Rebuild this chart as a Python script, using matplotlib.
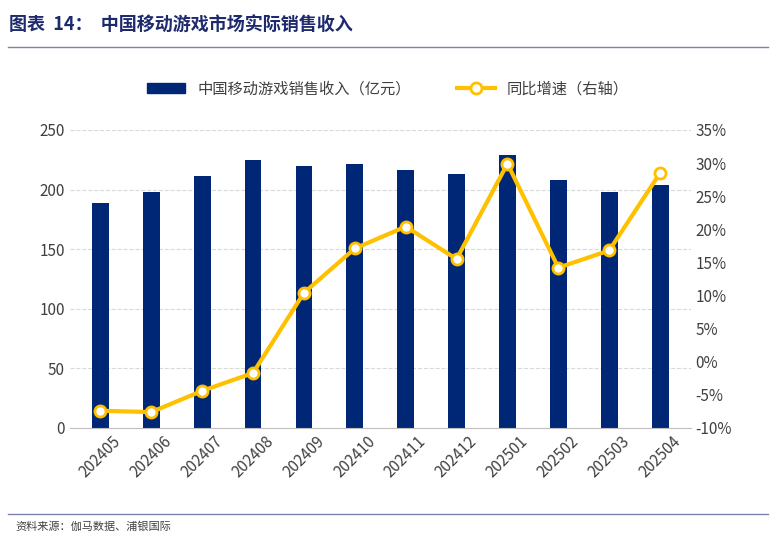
import matplotlib.pyplot as plt
from matplotlib.lines import Line2D

plt.rcParams["font.family"] = "Noto Sans CJK SC"

months = ["202405", "202406", "202407", "202408", "202409", "202410",
          "202411", "202412", "202501", "202502", "202503", "202504"]
revenue = [189, 198, 211, 225, 220, 221, 216, 213, 229, 208, 198, 204]
growth = [-7.4, -7.6, -4.4, -1.7, 10.4, 17.1, 20.4, 15.5, 29.9, 14.2, 16.8, 28.5]

navy = "#002776"
gold = "#FFC000"

fig = plt.figure(figsize=(7.76, 5.39), dpi=100)
ax = fig.add_axes([0.09, 0.206, 0.80, 0.553])
x = range(len(months))
ax.bar(x, revenue, width=0.33, color=navy, zorder=2)
ax.set_ylim(0, 250)
ax.set_yticks(range(0, 251, 50))
ax.set_xlim(-0.6, len(months) - 0.4)
ax.set_xticks(list(x))
ax.set_xticklabels(months, rotation=45, fontsize=11, color="#404040")
ax.tick_params(axis="y", labelsize=11, colors="#404040", length=0)
ax.tick_params(axis="x", length=0)
ax.grid(axis="y", color="#d9d9d9", linestyle="--", linewidth=0.8, zorder=0)
for s in ["top", "right", "left"]:
    ax.spines[s].set_visible(False)
ax.spines["bottom"].set_color("#bfbfbf")

ax2 = ax.twinx()
ax2.plot(x, growth, color=gold, linewidth=3, marker="o", markersize=8,
         markerfacecolor="white", markeredgecolor=gold, markeredgewidth=2, zorder=3)
ax2.set_ylim(-10, 35)
ax2.set_yticks(range(-10, 36, 5))
ax2.set_yticklabels([f"{v}%" for v in range(-10, 36, 5)])
ax2.tick_params(axis="y", labelsize=11, colors="#404040", length=0)
for s in ["top", "right", "left", "bottom"]:
    ax2.spines[s].set_visible(False)

handles = [
    plt.Rectangle((0, 0), 1, 1, color=navy),
    Line2D([0], [0], color=gold, linewidth=3, marker="o", markersize=8,
           markerfacecolor="white", markeredgecolor=gold, markeredgewidth=2),
]
fig.legend(handles, ["中国移动游戏销售收入（亿元）", "同比增速（右轴）"],
           loc="center", bbox_to_anchor=(0.5, 0.835), ncol=2, frameon=False,
           fontsize=11, labelcolor="#404040", handlelength=2.5, columnspacing=3)

fig.text(0.012, 0.97, "图表  14：  中国移动游戏市场实际销售收入", fontsize=13,
         fontweight="bold", color="#1f2a6e", va="top")
fig.add_artist(Line2D([0.01, 0.99], [0.913, 0.913], color="#8080b0", linewidth=1))
fig.add_artist(Line2D([0.01, 0.99], [0.047, 0.047], color="#8080b0", linewidth=1))
fig.text(0.02, 0.022, "资料来源：伽马数据、浦银国际", fontsize=8, color="#404040", va="center")

fig.savefig("out.png", dpi=100)
